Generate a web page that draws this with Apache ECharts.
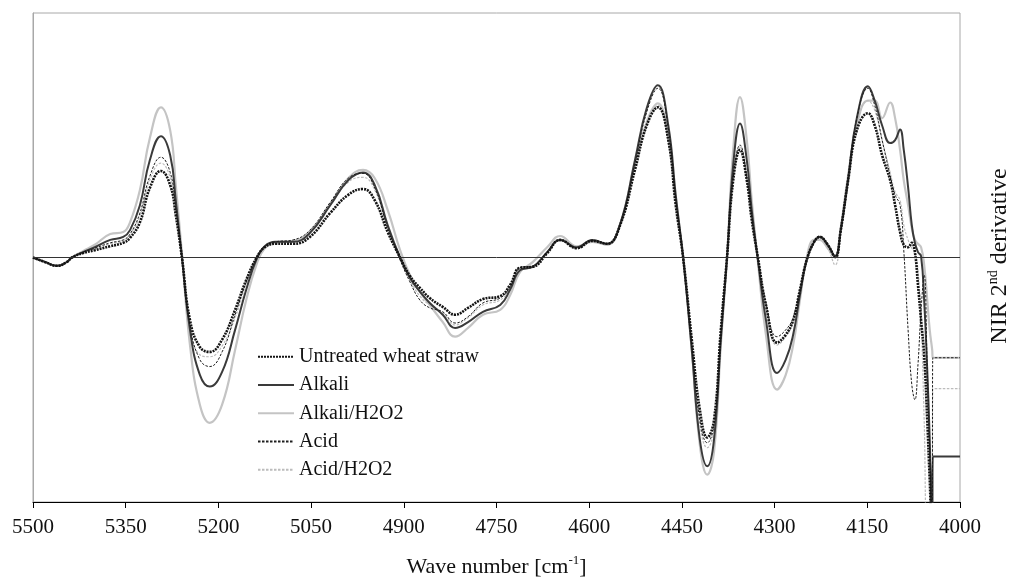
<!DOCTYPE html>
<html>
<head>
<meta charset="utf-8">
<script src="https://cdn.jsdelivr.net/npm/echarts/dist/echarts.min.js"></script>
</head>
<body style="margin:0;background:#fff">
<div id="c" style="width:1012px;height:579px"></div>
<script>
const wavenumbers = [5500,5481,5461,5445,5437,5419,5400,5375,5354,5343,5327,5311,5293,5278,5269,5259,5246,5230,5214,5194,5173,5155,5138,5125,5108,5079,5052,5019,4990,4966,4947,4926,4906,4890,4874,4858,4837,4817,4796,4772,4744,4728,4712,4691,4668,4647,4620,4595,4571,4550,4526,4507,4489,4472,4460,4448,4434,4421,4409,4398,4387,4377,4367,4356,4345,4337,4327,4314,4296,4282,4270,4259,4248,4236,4227,4214,4202,4193,4181,4167,4149,4138,4126,4113,4105,4097,4091,4084,4078,4073,4068,4063,4058,4053,4049,4045,4044,4000];

const untreated = [0,-0.9,-1.7,-0.9,0, 0.9,1.5,2.3,3.0,4.0, 7.2,14.2,17.7,14.8,8.7, 0,-12.8,-18.3,-19.3,-16.8, -10.7,-4.6,0,2.1,2.8, 2.8,4.2,9.1,12.8,14.0, 11.7,5.2,0,-3.8,-6.2, -8.3,-10.1,-11.7,-10.3,-8.5, -7.9,-5.6,-2.1,-1.9,0.9, 3.6,1.9,3.4,2.8,6.6, 17.9,27.0,30.7,24.0,10.7, 0,-16.8,-31.1,-36.8,-33.2, -14.8,0,15.8,22.0,15.8, 7.7,0,-9.7,-17.4,-15.8, -12.8,-6.6,-0.5,3.2,4.2, 2.6,0.1,5.6,15.8,26.0, 29.5,27.0,20.9,15.8,10.7, 5.2,2.6,2.1,3.0,1.1, -5.6,-12.8,-19.9,-33.2,-45.4, -56,-56,-56];

const alkali = [0,-0.9,-1.7,-0.9,0, 1.1,2.1,3.6,4.2,5.6, 10.7,19.9,24.8,20.9,11.7, 0,-14.8,-24.0,-26.4,-23.4, -14.8,-6.6,-0.3,2.3,3.2, 3.2,5.0,10.7,15.8,17.4, 14.8,6.6,0,-4.2,-7.0, -9.3,-11.7,-14.4,-13.2,-11.1, -9.7,-6.6,-2.6,-1.9,1.1, 3.6,2.1,3.6,2.8,6.8, 19.9,30.5,35.2,27.0,12.8, 0,-18.9,-37.2,-42.7,-37.2, -16.8,0,18.9,27.4,19.9, 9.7,-0.5,-12.8,-23.6,-20.9, -15.8,-7.7,-0.5,3.2,4.2, 2.6,0.3,5.6,16.2,28.5, 35.0,32.1,27.0,23.4,24.0, 26.2,22.0,14.4,6.6,3.0, 1.1,0.3,-8.7,-23.0,-37.2, -56,-40.7,-40.7];

const alkaliH2O2 = [0,-0.9,-1.7,-0.9,0, 1.3,2.6,4.8,5.2,7.2, 13.8,24.4,30.7,26.0,14.8, 0.8,-17.9,-30.1,-33.8,-30.1, -18.9,-8.7,-1.3,1.9,3.0, 3.4,5.2,10.9,16.2,17.9, 16.2,9.7,1.5,-3.6,-7.0, -9.7,-13.2,-16.2,-14.4,-11.7, -10.7,-7.7,-3.0,-0.9,2.1, 4.4,2.3,3.2,2.6,6.8, 18.9,27.7,31.5,24.4,11.7, 0,-18.9,-38.3,-44.4,-39.7, -17.9,0,22.0,32.8,24.0, 11.7,-0.9,-15.8,-27.0,-24.0, -17.9,-8.7,0,3.6,3.6, 1.9,0,6.0,16.8,27.0, 32.1,32.1,28.5,31.7,28.5, 22.0,15.8,10.7,6.0,3.6, 2.8,2.1,-1.5,-8.7,-14.8, -18.9,-20.5,-20.5];

const acid = [0,-0.9,-1.7,-0.9,0, 1.1,1.9,3.0,3.6,4.8, 9.1,16.6,20.5,17.4,10.1, 0,-13.8,-20.9,-22.3,-19.3, -11.7,-5.0,0,2.3,3.2, 3.6,5.6,11.3,16.2,17.2, 14.2,6.0,-0.5,-5.0,-8.7, -10.3,-11.1,-13.4,-12.1,-9.3, -8.3,-6.0,-2.1,-1.7,1.1, 3.6,1.9,3.4,2.8,6.8, 19.3,29.7,34.6,26.4,12.1, 0,-17.9,-33.2,-37.9,-34.2, -15.8,0,16.2,23.0,16.4, 8.1,0,-9.3,-16.2,-14.8, -12.3,-6.6,-0.5,3.2,4.4, 2.6,0,5.2,15.4,28.5, 34.6,31.1,24.0,16.8,12.8, 10.7,1.5,-14.8,-26.0,-29.1, -21.9,-10.7,-3.6,-23.0,-39.3, -56,-20.5,-20.5];

const acidH2O2 = [0,-0.9,-1.7,-0.9,0, 1.1,1.7,2.8,3.4,4.6, 8.5,15.8,19.3,16.4,9.7, 0,-14.4,-19.9,-20.3,-18.1, -12.3,-5.4,0,2.3,3.2, 3.4,5.2,10.7,15.4,16.4, 13.8,6.0,0,-4.6,-7.9, -9.7,-11.3,-13.8,-12.3,-9.7, -8.7,-6.2,-2.1,-1.7,1.1, 3.4,1.9,3.2,2.6,6.4, 18.3,27.2,31.1,24.0,11.1, 0,-17.9,-34.2,-38.9,-35.2, -15.8,0,16.2,22.6,16.2, 8.1,0,-10.3,-17.9,-16.2, -13.2,-7.0,-0.5,3.0,4.0, 1.9,-1.5,4.6,14.8,27.0, 32.1,30.1,24.0,17.4,13.4, 11.7,6.6,3.6,1.9,1.1, -2.6,-12.8,-33.2,-56,-56, -56,-26.8,-26.8];

const xTickLabels = ['5500','5350','5200','5050','4900','4750','4600','4450','4300','4150','4000'];
const legendNames = ['Untreated wheat straw','Alkali','Alkali/H2O2','Acid','Acid/H2O2'];

const FONT = 'Liberation Serif, Times New Roman, serif';
const START = 5500;
const toPts = vals => wavenumbers.map((w, i) => [START - w, vals[i]]);

function mk(name, vals, ls, extra) {
  return Object.assign({
    name: name, type: 'line', data: toPts(vals), symbol: 'none',
    smooth: 0.45, clip: true,
    lineStyle: ls, itemStyle: { color: ls.color }
  }, extra || {});
}

const chart = echarts.init(document.getElementById('c'), null, { renderer: 'canvas' });
chart.setOption({
  animation: false,
  backgroundColor: '#ffffff',
  grid: { left: 33, right: 52, top: 13, bottom: 77, show: true, borderColor: '#a8a8a8', borderWidth: 1,
    containLabel: false, outerBoundsMode: 'none' },
  xAxis: {
    type: 'value', min: 0, max: 1500, interval: 150,
    axisLine: { show: true, onZero: false, lineStyle: { color: '#000', width: 1 } },
    axisTick: { show: true, length: 6, lineStyle: { color: '#000' } },
    splitLine: { show: false },
    axisLabel: {
      formatter: v => xTickLabels[Math.round(v / 150)],
      fontFamily: FONT, fontSize: 21, color: '#111', margin: 15
    },
    name: 'Wave number [cm{sup|-1}]', nameLocation: 'middle', nameGap: 52,
    nameTextStyle: { fontFamily: FONT, fontSize: 22, color: '#111', lineHeight: 26,
      rich: { sup: { fontFamily: FONT, fontSize: 13, verticalAlign: 'top', lineHeight: 15, color: '#111' } } }
  },
  yAxis: {
    type: 'value', min: -50, max: 50,
    axisLine: { show: true, onZero: false, lineStyle: { color: '#a8a8a8' } },
    axisTick: { show: false }, axisLabel: { show: false }, splitLine: { show: false }
  },
  legend: {
    data: legendNames, orient: 'vertical', left: 257, top: 346, padding: 0,
    itemWidth: 36, itemHeight: 14, itemGap: 7, itemStyle: { opacity: 0 },
    textStyle: { fontFamily: FONT, fontSize: 20, color: '#111', lineHeight: 21.3 }
  },
  graphic: [{
    type: 'text', x: 1000, y: 256, rotation: Math.PI / 2,
    style: {
      text: 'NIR 2{sup|nd} derivative', fontFamily: FONT, fontSize: 24, fill: '#111',
      align: 'center', verticalAlign: 'middle', lineHeight: 27,
      rich: { sup: { fontFamily: FONT, fontSize: 14, verticalAlign: 'top', lineHeight: 15, fill: '#111' } }
    }
  }],
  series: [
    mk('Alkali/H2O2', alkaliH2O2, { color: '#c4c4c4', width: 2.2, type: 'solid' }, {
      markLine: { silent: true, symbol: ['none', 'none'], label: { show: false },
        lineStyle: { color: '#333', width: 1, type: 'solid' }, data: [{ yAxis: 0 }] }
    }),
    mk('Acid/H2O2', acidH2O2, { color: '#bcbcbc', width: 1.2, type: [2.5, 1.5] }),
    mk('Alkali', alkali, { color: '#3a3a3a', width: 2, type: 'solid' }),
    mk('Acid', acid, { color: '#1e1e1e', width: 1, type: [2.5, 1.5] }),
    mk('Untreated wheat straw', untreated, { color: '#141414', width: 2.6, type: [2, 1] })
  ]
});
</script>
</body>
</html>
